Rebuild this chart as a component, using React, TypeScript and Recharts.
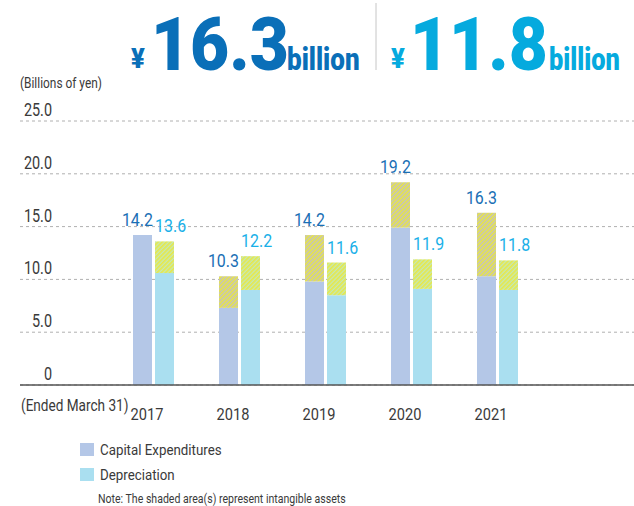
import React from 'react';
import { BarChart, Bar, XAxis, YAxis, CartesianGrid, LabelList } from 'recharts';

const YEARS = ['2017', '2018', '2019', '2020', '2021'];
const CAPEX_TOTAL = [14.2, 10.3, 14.2, 19.2, 16.3];
const CAPEX_TANGIBLE = [14.2, 7.3, 9.8, 14.9, 10.3];
const DEPR_TOTAL = [13.6, 12.2, 11.6, 11.9, 11.8];
const DEPR_TANGIBLE = [10.6, 9.0, 8.5, 9.1, 9.0];
const Y_TICKS = [0, 5, 10, 15, 20, 25];

const FONT = "Roboto, 'Liberation Sans', sans-serif";

const COLORS = {
    capex: '#b4c7e7',
    depr: '#aadff0',
    capexLabel: '#1a6fb5',
    deprLabel: '#19b0e8',
    titleDark: '#0a6fb8',
    titleLight: '#05aade',
    text: '#3a3a3a',
    grid: '#b0b0b0',
    axis: '#555555',
};

const data = YEARS.map((year, i) => ({
    year,
    capTangible: CAPEX_TANGIBLE[i],
    capIntangible: +(CAPEX_TOTAL[i] - CAPEX_TANGIBLE[i]).toFixed(1),
    depTangible: DEPR_TANGIBLE[i],
    depIntangible: +(DEPR_TOTAL[i] - DEPR_TANGIBLE[i]).toFixed(1),
}));

// condensed look: squeeze text horizontally around its anchor point
const NarrowText = ({ x, y, size, sx = 0.84, anchor = 'start', fill = COLORS.text, weight = 'normal', children }: any) => (
    <text
        transform={`translate(${x},${y}) scale(${sx},1)`}
        fontSize={size}
        textAnchor={anchor}
        fill={fill}
        fontWeight={weight}
        fontFamily={FONT}
    >
        {children}
    </text>
);

const YTick = (props: any) => {
    const v = props.payload.value;
    return <NarrowText x={52} y={props.y - 5} size={18} sx={0.8} anchor="end">{v === 0 ? '0' : v.toFixed(1)}</NarrowText>;
};

const XTick = (props: any) => (
    <NarrowText x={props.x - 6} y={props.y + 27} size={17} sx={0.86} anchor="middle">{props.payload.value}</NarrowText>
);

// labels hang off the tangible bar; the stack top is found from the bar's own px-per-unit
const makeLabel = (totals: number[], side: 'cap' | 'dep') => (p: any) => {
    const i = p.index;
    if (i == null || !p.value) return null;
    const base = p.y + p.height;
    const top = base - (totals[i] * p.height) / p.value;
    return side === 'cap' ? (
        <NarrowText key={`c${i}`} x={p.x + p.width + 1} y={top - 9} size={19} sx={0.84} anchor="end" fill={COLORS.capexLabel}>
            {totals[i].toFixed(1)}
        </NarrowText>
    ) : (
        <NarrowText key={`d${i}`} x={p.x} y={top - 9} size={19} sx={0.84} anchor="start" fill={COLORS.deprLabel}>
            {totals[i].toFixed(1)}
        </NarrowText>
    );
};

const App: React.FC = () => {
    return (
        <div style={{ position: 'absolute', left: 0, top: 0, width: 634, height: 506, background: '#fff' }}>
            <BarChart
                width={634}
                height={506}
                data={data}
                margin={{ top: 121, right: 0, left: 19, bottom: 91 }}
                barSize={19}
                barGap={3}
            >
                <defs>
                    <pattern id="hatchCap" width="3" height="3" patternUnits="userSpaceOnUse" patternTransform="rotate(45)">
                        <rect width="3" height="3" fill="#c2c0c4" />
                        <rect width="1.7" height="3" fill="#e6e44a" />
                    </pattern>
                    <pattern id="hatchDep" width="3" height="3" patternUnits="userSpaceOnUse" patternTransform="rotate(45)">
                        <rect width="3" height="3" fill="#c4e8b8" />
                        <rect width="1.7" height="3" fill="#e6e84a" />
                    </pattern>
                </defs>
                <CartesianGrid vertical={false} stroke={COLORS.grid} strokeDasharray="3 3" />
                <XAxis
                    dataKey="year"
                    height={30}
                    padding={{ left: 90, right: 94 }}
                    tickLine={false}
                    axisLine={{ stroke: COLORS.axis, strokeWidth: 1.5 }}
                    tick={<XTick />}
                    interval={0}
                />
                <YAxis
                    width={1}
                    domain={[0, 25]}
                    ticks={Y_TICKS}
                    axisLine={false}
                    tickLine={false}
                    tick={(p: any) => <YTick {...p} />}
                    interval={0}
                />
                <Bar dataKey="capTangible" stackId="cap" fill={COLORS.capex} isAnimationActive={false}>
                    <LabelList dataKey="capTangible" content={makeLabel(CAPEX_TOTAL, 'cap')} />
                </Bar>
                <Bar dataKey="capIntangible" stackId="cap" fill="url(#hatchCap)" isAnimationActive={false} />
                <Bar dataKey="depTangible" stackId="dep" fill={COLORS.depr} isAnimationActive={false}>
                    <LabelList dataKey="depTangible" content={makeLabel(DEPR_TOTAL, 'dep')} />
                </Bar>
                <Bar dataKey="depIntangible" stackId="dep" fill="url(#hatchDep)" isAnimationActive={false} />
            </BarChart>
            <svg width={634} height={506} style={{ position: 'absolute', left: 0, top: 0, pointerEvents: 'none' }}>
                <NarrowText x={131} y={68} size={27} sx={0.95} weight={900} fill={COLORS.titleDark}>¥</NarrowText>
                <NarrowText x={151} y={70} size={75} sx={0.9} weight={900} fill={COLORS.titleDark}>16.3</NarrowText>
                <NarrowText x={287} y={70} size={31} sx={0.84} weight={900} fill={COLORS.titleDark}>billion</NarrowText>
                <line x1={376} y1={3} x2={376} y2={70} stroke="#c6c6c6" strokeWidth={1} />
                <NarrowText x={391} y={68} size={27} sx={0.95} weight={900} fill={COLORS.titleLight}>¥</NarrowText>
                <NarrowText x={410} y={70} size={75} sx={0.9} weight={900} fill={COLORS.titleLight}>11.8</NarrowText>
                <NarrowText x={549} y={70} size={31} sx={0.82} weight={900} fill={COLORS.titleLight}>billion</NarrowText>

                <NarrowText x={20} y={88} size={14} sx={0.85}>(Billions of yen)</NarrowText>
                <NarrowText x={21} y={411} size={16} sx={0.85}>(Ended March 31)</NarrowText>
                <rect x={80} y={443} width={14} height={13} fill={COLORS.capex} />
                <NarrowText x={100} y={455} size={15.5} sx={0.86}>Capital Expenditures</NarrowText>
                <rect x={80} y={468} width={14} height={13} fill={COLORS.depr} />
                <NarrowText x={100} y={480} size={15.5} sx={0.86}>Depreciation</NarrowText>
                <NarrowText x={98} y={503} size={12} sx={0.88}>Note: The shaded area(s) represent intangible assets</NarrowText>
            </svg>
        </div>
    );
};

export default App;
